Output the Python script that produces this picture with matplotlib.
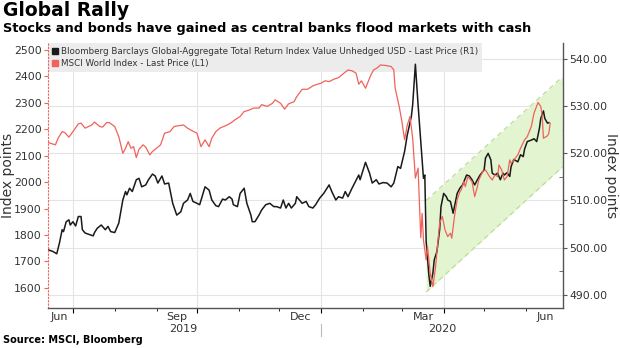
import matplotlib
matplotlib.use("Agg")
import matplotlib.pyplot as plt
import matplotlib.dates as mdates
import matplotlib.transforms as mtransforms
from matplotlib.lines import Line2D
from matplotlib.ticker import FormatStrFormatter, MultipleLocator
import pandas as pd

# MSCI World Index (left axis)
msci_dates = [
    "2019-06-13", "2019-06-18", "2019-06-20", "2019-06-23", "2019-06-25", "2019-06-28",
    "2019-07-01", "2019-07-05", "2019-07-07", "2019-07-10", "2019-07-15", "2019-07-17",
    "2019-07-21", "2019-07-23", "2019-07-26", "2019-07-28", "2019-08-01", "2019-08-04",
    "2019-08-07", "2019-08-09", "2019-08-11", "2019-08-13", "2019-08-15", "2019-08-17",
    "2019-08-19", "2019-08-22", "2019-08-24", "2019-08-27", "2019-08-29", "2019-09-01",
    "2019-09-04", "2019-09-07", "2019-09-11", "2019-09-14", "2019-09-17", "2019-09-21",
    "2019-09-24", "2019-09-27", "2019-10-01", "2019-10-04", "2019-10-07", "2019-10-10",
    "2019-10-12", "2019-10-15", "2019-10-18", "2019-10-22", "2019-10-26", "2019-10-29",
    "2019-11-02", "2019-11-05", "2019-11-08", "2019-11-12", "2019-11-16", "2019-11-18",
    "2019-11-22", "2019-11-26", "2019-11-28", "2019-12-02", "2019-12-05", "2019-12-08",
    "2019-12-12", "2019-12-14", "2019-12-18", "2019-12-22", "2019-12-26", "2019-12-28",
    "2020-01-01", "2020-01-04", "2020-01-07", "2020-01-11", "2020-01-14", "2020-01-18",
    "2020-01-21", "2020-01-24", "2020-01-27", "2020-01-29", "2020-01-31", "2020-02-03",
    "2020-02-05", "2020-02-07", "2020-02-09", "2020-02-12", "2020-02-14", "2020-02-18",
    "2020-02-22", "2020-02-24", "2020-02-25", "2020-02-28", "2020-03-01", "2020-03-03",
    "2020-03-05", "2020-03-07", "2020-03-09", "2020-03-11", "2020-03-13", "2020-03-15",
    "2020-03-16", "2020-03-17", "2020-03-19", "2020-03-20", "2020-03-22", "2020-03-24",
    "2020-03-26", "2020-03-27", "2020-03-29", "2020-03-31", "2020-04-02", "2020-04-04",
    "2020-04-06", "2020-04-07", "2020-04-09", "2020-04-11", "2020-04-13", "2020-04-14",
    "2020-04-16", "2020-04-17", "2020-04-19", "2020-04-21", "2020-04-22", "2020-04-24",
    "2020-04-26", "2020-04-27", "2020-04-30", "2020-05-02", "2020-05-05", "2020-05-07",
    "2020-05-09", "2020-05-11", "2020-05-12", "2020-05-14", "2020-05-16", "2020-05-18",
    "2020-05-20", "2020-05-21", "2020-05-23", "2020-05-26", "2020-05-28", "2020-05-31",
    "2020-06-02", "2020-06-05", "2020-06-07", "2020-06-10", "2020-06-12", "2020-06-13",
    "2020-06-14", "2020-06-17", "2020-06-18", "2020-06-19",
]
msci_values = [
    2149, 2141, 2166, 2191, 2187, 2170,
    2191, 2220, 2223, 2204, 2216, 2227,
    2210, 2208, 2225, 2225, 2210, 2172,
    2109, 2128, 2153, 2128, 2134, 2093,
    2124, 2141, 2132, 2103, 2116, 2128,
    2141, 2185, 2191, 2210, 2213, 2216,
    2204, 2195, 2185, 2134, 2160, 2134,
    2166, 2191, 2204, 2213, 2223, 2235,
    2248, 2267, 2271, 2280, 2280, 2293,
    2286, 2298, 2311, 2298, 2276, 2296,
    2304, 2323, 2351, 2351, 2364, 2368,
    2374, 2383, 2380, 2390, 2395, 2412,
    2424, 2421, 2412, 2370, 2383, 2355,
    2380, 2405, 2424, 2433, 2443, 2441,
    2437, 2424, 2355, 2286, 2229, 2160,
    2216, 2248, 2166, 2015, 2053, 1790,
    1882, 1781, 1706, 1756, 1655, 1605,
    1680, 1737, 1845, 1870, 1819, 1794,
    1807, 1788, 1870, 1933, 1964, 1970,
    2002, 1983, 2021, 2008, 2002, 1945,
    1983, 2008, 2040, 2046, 2021, 2008,
    2027, 2021, 2065, 2046, 2008, 2021,
    2084, 2071, 2084, 2103, 2128, 2160,
    2172, 2210, 2261, 2301, 2286, 2254,
    2166, 2175, 2185, 2223,
]

# Bloomberg Barclays Global-Aggregate TR index (right axis)
bond_dates = [
    "2019-06-13", "2019-06-16", "2019-06-19", "2019-06-21", "2019-06-23", "2019-06-24",
    "2019-06-26", "2019-06-28", "2019-06-29", "2019-07-01", "2019-07-03", "2019-07-05",
    "2019-07-07", "2019-07-08", "2019-07-10", "2019-07-14", "2019-07-16", "2019-07-17",
    "2019-07-19", "2019-07-22", "2019-07-25", "2019-07-27", "2019-07-29", "2019-08-01",
    "2019-08-04", "2019-08-07", "2019-08-09", "2019-08-10", "2019-08-12", "2019-08-14",
    "2019-08-17", "2019-08-19", "2019-08-21", "2019-08-24", "2019-08-26", "2019-08-29",
    "2019-08-31", "2019-09-02", "2019-09-05", "2019-09-07", "2019-09-10", "2019-09-13",
    "2019-09-16", "2019-09-19", "2019-09-21", "2019-09-24", "2019-09-26", "2019-09-28",
    "2019-10-01", "2019-10-03", "2019-10-07", "2019-10-10", "2019-10-12", "2019-10-15",
    "2019-10-17", "2019-10-20", "2019-10-22", "2019-10-25", "2019-10-27", "2019-10-28",
    "2019-10-31", "2019-11-02", "2019-11-05", "2019-11-07", "2019-11-10", "2019-11-11",
    "2019-11-13", "2019-11-16", "2019-11-18", "2019-11-21", "2019-11-24", "2019-11-27",
    "2019-11-29", "2019-12-02", "2019-12-04", "2019-12-06", "2019-12-08", "2019-12-10",
    "2019-12-13", "2019-12-14", "2019-12-16", "2019-12-18", "2019-12-21", "2019-12-23",
    "2019-12-26", "2019-12-28", "2019-12-31", "2020-01-03", "2020-01-07", "2020-01-09",
    "2020-01-12", "2020-01-14", "2020-01-17", "2020-01-19", "2020-01-21", "2020-01-24",
    "2020-01-26", "2020-01-29", "2020-01-30", "2020-02-03", "2020-02-06", "2020-02-08",
    "2020-02-11", "2020-02-13", "2020-02-16", "2020-02-19", "2020-02-22", "2020-02-24",
    "2020-02-27", "2020-02-29", "2020-03-03", "2020-03-05", "2020-03-08", "2020-03-09",
    "2020-03-11", "2020-03-13", "2020-03-15", "2020-03-17", "2020-03-18", "2020-03-19",
    "2020-03-21", "2020-03-22", "2020-03-24", "2020-03-25", "2020-03-27", "2020-03-29",
    "2020-03-30", "2020-04-01", "2020-04-03", "2020-04-04", "2020-04-06", "2020-04-08",
    "2020-04-09", "2020-04-11", "2020-04-13", "2020-04-15", "2020-04-18", "2020-04-20",
    "2020-04-22", "2020-04-24", "2020-04-26", "2020-04-28", "2020-05-01", "2020-05-02",
    "2020-05-04", "2020-05-06", "2020-05-07", "2020-05-09", "2020-05-11", "2020-05-13",
    "2020-05-15", "2020-05-16", "2020-05-18", "2020-05-20", "2020-05-21", "2020-05-23",
    "2020-05-26", "2020-05-28", "2020-05-30", "2020-05-31", "2020-06-02", "2020-06-05",
    "2020-06-07", "2020-06-09", "2020-06-11", "2020-06-12", "2020-06-14", "2020-06-15",
    "2020-06-17", "2020-06-18",
]
bond_values = [
    499.5, 499.2, 498.7, 501.0, 503.8, 503.4,
    505.5, 505.9, 504.8, 505.5, 504.6, 506.6,
    506.6, 503.8, 503.1, 502.7, 502.5, 503.2,
    504.1, 504.8, 503.8, 504.5, 503.4, 503.2,
    505.2, 510.1, 511.9, 511.2, 512.6, 511.9,
    514.4, 514.7, 512.9, 513.3, 514.4, 515.6,
    515.2, 513.7, 515.2, 513.5, 513.7, 509.4,
    506.9, 507.6, 509.4, 510.1, 511.5, 509.8,
    509.4, 509.1, 512.9, 512.2, 510.1, 508.9,
    508.7, 510.3, 510.1, 510.8, 510.3, 509.1,
    508.7, 511.5, 512.6, 509.4, 506.9, 505.5,
    505.5, 506.9, 508.0, 509.1, 509.4, 508.7,
    508.7, 508.4, 510.1, 508.4, 509.4, 508.4,
    509.4, 510.8, 510.1, 509.4, 509.8, 508.7,
    508.4, 509.1, 510.5, 511.5, 513.3, 511.9,
    510.1, 510.8, 510.5, 511.9, 510.8, 512.6,
    513.7, 515.4, 514.4, 518.1, 515.8, 513.7,
    514.4, 513.5, 513.8, 513.7, 512.9, 513.7,
    517.2, 516.8, 520.4, 523.9, 527.8, 530.3,
    538.9, 530.3, 522.5, 514.7, 515.4, 501.3,
    494.2, 491.8, 494.6, 497.4, 499.2, 503.8,
    508.7, 511.5, 510.8, 510.1, 509.8, 507.3,
    508.7, 511.5, 512.6, 513.3, 515.4, 515.2,
    514.4, 513.3, 514.4, 515.4, 516.5, 519.0,
    520.0, 518.6, 515.8, 515.4, 515.8, 514.4,
    515.8, 515.4, 515.9, 515.1, 517.2, 518.7,
    518.2, 519.7, 519.3, 520.9, 522.5, 522.8,
    523.1, 522.5, 525.3, 527.4, 529.0, 527.4,
    526.4, 526.5,
]

# trend channel drawn on the right axis
channel_dates = ["2020-03-19", "2020-06-28"]
channel_upper = [510.0, 536.2]
channel_lower = [490.6, 517.1]

left_ticks = [1600, 1700, 1800, 1900, 2000, 2100, 2200, 2300, 2400, 2500]
right_ticks = [490, 500, 510, 520, 530, 540]
quarter_dates = ["2019-07-01", "2019-10-01", "2020-01-01", "2020-04-01"]
month_labels = ["Jun", "Sep", "Dec", "Mar", "Jun"]
month_label_dates = ["2019-06-21", "2019-09-16", "2019-12-17", "2020-03-17", "2020-06-15"]
year_labels = ["2019", "2020"]
year_label_dates = ["2019-09-21", "2020-03-31"]
year_break = "2020-01-01"

RED = "#f0625a"
BLACK = "#1a1a1a"
TXT = "#333333"

plt.rcParams["font.family"] = ["DejaVu Sans"]

fig = plt.figure(figsize=(6.2, 3.48), dpi=100)
ax2 = fig.add_axes([48 / 620, 1 - 308 / 348, 515 / 620, 265 / 348])
ax = ax2.twinx()
ax.set_zorder(ax2.get_zorder() + 1)
ax.patch.set_visible(False)

# bottom axes: grid, channel, bond line, legend
ax2.set_axisbelow(True)
ax2.yaxis.tick_right()
ax2.yaxis.set_label_position("right")
ax2.set_ylim(487.2, 543.4)
ax2.set_yticks(right_ticks)
ax2.yaxis.set_major_formatter(FormatStrFormatter("%.2f"))
ax2.yaxis.set_minor_locator(MultipleLocator(5))
ax2.grid(axis="y", color="#e4e4e4", lw=0.8)
for d in quarter_dates:
    ax2.axvline(pd.Timestamp(d), color="#e4e4e4", lw=0.8, zorder=0.5)

cd = pd.to_datetime(channel_dates)
ax2.fill_between(cd, channel_lower, channel_upper, color="#e3f4d0", lw=0, zorder=0.8)
ax2.plot(cd, channel_upper, color="#bfdc98", lw=0.9, ls=(0, (4, 3)), zorder=0.9)
ax2.plot(cd, channel_lower, color="#bfdc98", lw=0.9, ls=(0, (4, 3)), zorder=0.9)

ax2.plot(pd.to_datetime(bond_dates), bond_values, color=BLACK, lw=1.1, zorder=2)

# top axes: MSCI line
ax.yaxis.tick_left()
ax.set_ylim(1524, 2526)
ax.set_yticks(left_ticks)
ax.plot(pd.to_datetime(msci_dates), msci_values, color=RED, lw=0.9, zorder=3)

ax2.set_xlim(pd.Timestamp("2019-06-12 12:00"), pd.Timestamp("2020-06-28 12:00"))

# spines
for s in ["top", "left", "bottom"]:
    ax2.spines[s].set_visible(False)
ax2.spines["right"].set_color("#555555")
ax2.spines["right"].set_linewidth(1.0)
ax.spines["top"].set_visible(False)
ax.spines["right"].set_visible(False)
ax.spines["left"].set_color(RED)
ax.spines["left"].set_linestyle((0, (1, 2)))
ax.spines["left"].set_linewidth(0.8)
ax.spines["bottom"].set_color("#555555")
ax.spines["bottom"].set_linewidth(1.0)

ax.tick_params(axis="y", colors=RED, labelcolor=TXT, labelsize=7.8, length=3, pad=1.5)
ax2.tick_params(axis="y", which="major", colors="#555555", labelcolor=TXT, labelsize=7.8,
                length=3, pad=1.5)
ax2.tick_params(axis="y", which="minor", colors="#555555", direction="in", length=3)

# x ticks: quarters cross the axis, months below it
ax.xaxis.set_major_locator(mdates.MonthLocator(bymonth=[1, 4, 7, 10]))
ax.xaxis.set_minor_locator(mdates.MonthLocator())
ax.xaxis.set_major_formatter(plt.NullFormatter())
ax.tick_params(axis="x", which="major", direction="inout", length=6, color="#555555")
ax.tick_params(axis="x", which="minor", direction="out", length=3, color="#555555")

trans = mtransforms.blended_transform_factory(ax.transData, ax.transAxes)
for lab, d in zip(month_labels, month_label_dates):
    ax.text(pd.Timestamp(d), -0.034, lab, transform=trans, ha="center", va="center",
            fontsize=8, color=TXT)
for lab, d in zip(year_labels, year_label_dates):
    ax.text(pd.Timestamp(d), -0.078, lab, transform=trans, ha="center", va="center",
            fontsize=8, color=TXT)
ax.add_line(Line2D([pd.Timestamp(year_break)] * 2, [-0.06, -0.105], transform=trans,
                   color="#bbbbbb", lw=0.8, clip_on=False))

# legend
handles = [
    Line2D([], [], marker="s", color=BLACK, ls="none", markersize=4.5),
    Line2D([], [], marker="s", color=RED, ls="none", markersize=4.5),
]
labels = [
    "Bloomberg Barclays Global-Aggregate Total Return Index Value Unhedged USD - Last Price (R1)",
    "MSCI World Index - Last Price (L1)",
]
leg = ax2.legend(handles, labels, loc="upper left", bbox_to_anchor=(0, 1), borderaxespad=0,
                 fontsize=6.35, frameon=True, facecolor="#ececec", edgecolor="none",
                 fancybox=False, framealpha=1, handlelength=0.5, handletextpad=0.45,
                 labelspacing=0.3, borderpad=0.5)
leg.set_zorder(1)
for t in leg.get_texts():
    t.set_color(TXT)

# axis titles and headings
fig.text(8 / 620, 1 - 175.5 / 348, "Index points", rotation=90, ha="center", va="center",
         fontsize=10, color=TXT)
fig.text(611 / 620, 1 - 175.5 / 348, "Index points", rotation=270, ha="center", va="center",
         fontsize=10, color=TXT)
fig.text(3 / 620, 1 - 1 / 348, "Global Rally", ha="left", va="top", fontsize=13.5,
         fontweight="bold", color="black")
fig.text(3 / 620, 1 - 22 / 348, "Stocks and bonds have gained as central banks flood markets with cash",
         ha="left", va="top", fontsize=9.4, fontweight="bold", color="black")
fig.text(3 / 620, 1 - 335 / 348, "Source: MSCI, Bloomberg", ha="left", va="top", fontsize=7,
         fontweight="bold", color="black")

fig.savefig("out.png", dpi=100)
